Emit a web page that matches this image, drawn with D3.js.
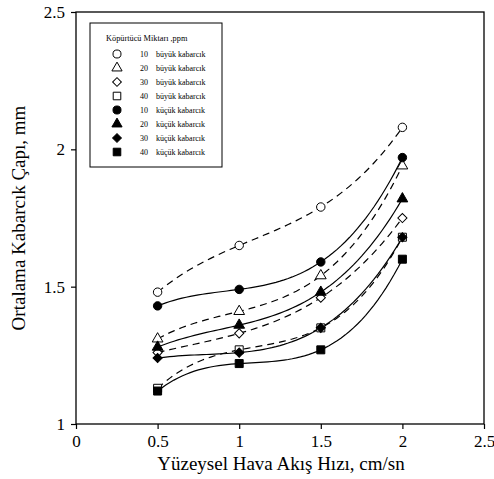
<!DOCTYPE html>
<html>
<head>
<meta charset="utf-8">
<script src="https://cdn.jsdelivr.net/npm/d3@7"></script>
<style>
  body { margin: 0; background: #fff; }
  svg { display: block; font-family: "Liberation Serif", "DejaVu Serif", serif; }
  text { fill: #000; }
</style>
</head>
<body>
<div id="chart"></div>
<script>
// data
var flowRates = [0.5, 1, 1.5, 2];
var doses = [10, 20, 30, 40];
var largeBubble = [
    [1.48, 1.65, 1.79, 2.08],
    [1.31, 1.41, 1.54, 1.94],
    [1.26, 1.33, 1.46, 1.75],
    [1.13, 1.27, 1.35, 1.68]
];
var smallBubble = [
    [1.43, 1.49, 1.59, 1.97],
    [1.28, 1.36, 1.48, 1.82],
    [1.24, 1.26, 1.35, 1.68],
    [1.12, 1.22, 1.27, 1.60]
];
var xTicks = [0, 0.5, 1, 1.5, 2, 2.5];
var yTicks = [1, 1.5, 2, 2.5];

var W = 494, H = 479;
var svg = d3.select("#chart").append("svg").attr("width", W).attr("height", H);

var x = d3.scaleLinear().domain([0, 2.5]).range([76, 484]);
var y = d3.scaleLinear().domain([1, 2.5]).range([424, 12]);

// frame
svg.append("rect")
    .attr("x", x(0)).attr("y", y(2.5))
    .attr("width", x(2.5) - x(0)).attr("height", y(1) - y(2.5))
    .style("fill", "none").style("stroke", "#000").style("stroke-width", 1.3);

var gx = svg.append("g").attr("transform", "translate(0," + y(1) + ")")
    .call(d3.axisBottom(x).tickValues(xTicks).tickSize(5).tickPadding(6)
        .tickFormat(function(d){ return String(d); }));
var gy = svg.append("g").attr("transform", "translate(" + x(0) + ",0)")
    .call(d3.axisLeft(y).tickValues(yTicks).tickSize(5).tickPadding(6)
        .tickFormat(function(d){ return String(d); }));
[gx, gy].forEach(function(g){
    g.select(".domain").remove();
    g.selectAll("line").style("stroke", "#000").style("stroke-width", 1.2);
    g.selectAll("text").style("font-family", "Liberation Serif").style("font-size", "17px").style("fill", "#000");
});

svg.append("text")
    .attr("x", 281).attr("y", 470)
    .attr("text-anchor", "middle")
    .style("font-size", "19px")
    .text("Yüzeysel Hava Akış Hızı, cm/sn");
svg.append("text")
    .attr("transform", "translate(25," + 218 + ") rotate(-90)")
    .attr("text-anchor", "middle")
    .style("font-size", "19px")
    .text("Ortalama Kabarcık Çapı, mm");

// cubic through the four points, sampled for the path
var cubic = function(vals){
    return function(t){
        var s = 0;
        for (var i = 0; i < flowRates.length; i++) {
            var p = vals[i];
            for (var j = 0; j < flowRates.length; j++) {
                if (j != i) p *= (t - flowRates[j]) / (flowRates[i] - flowRates[j]);
            }
            s += p;
        }
        return s;
    };
};
var samples = d3.range(0.5, 2.0001, 0.025);
var line = d3.line().x(function(d){ return x(d[0]); }).y(function(d){ return y(d[1]); });

var symbols = [d3.symbolCircle, d3.symbolTriangle, d3.symbolSquare, d3.symbolSquare];
var symSize = [56, 50, 42, 64];
var symRot = [0, 0, 45, 0];

var series = [];
largeBubble.forEach(function(v, i){ series.push({dose: doses[i], kind: "büyük kabarcık", vals: v, open: true, k: i}); });
smallBubble.forEach(function(v, i){ series.push({dose: doses[i], kind: "küçük kabarcık", vals: v, open: false, k: i}); });

var plot = svg.append("g");
series.forEach(function(s){
    var f = cubic(s.vals);
    plot.append("path")
        .attr("d", line(samples.map(function(t){ return [t, f(t)]; })))
        .style("fill", "none").style("stroke", "#000").style("stroke-width", 1.2)
        .style("stroke-dasharray", s.open ? "7,5" : null);
});

var drawSym = function(g, s, cx, cy, scale){
    g.append("path")
        .attr("d", d3.symbol().type(symbols[s.k]).size(symSize[s.k] * (scale || 1))())
        .attr("transform", "translate(" + cx + "," + cy + ") rotate(" + symRot[s.k] + ")")
        .style("fill", s.open ? "#fff" : "#000")
        .style("stroke", "#000").style("stroke-width", 1);
};

series.forEach(function(s){
    s.vals.forEach(function(v, i){ drawSym(plot, s, x(flowRates[i]), y(v)); });
});

// legend
var lg = svg.append("g");
lg.append("rect").attr("x", 90).attr("y", 23).attr("width", 132).attr("height", 144)
    .style("fill", "#fff").style("stroke", "#000").style("stroke-width", 1);
lg.append("text").attr("x", 106).attr("y", 41).style("font-size", "8.3px").text("Köpürtücü Miktarı ,ppm");
series.forEach(function(s, i){
    var ry = 54 + i * 14;
    drawSym(lg, s, 117, ry, 0.9);
    lg.append("text").attr("x", 140).attr("y", ry + 2.5).style("font-size", "8px").text(s.dose);
    lg.append("text").attr("x", 156).attr("y", ry + 2.5).style("font-size", "8px").text(s.kind);
});
</script>
</body>
</html>
